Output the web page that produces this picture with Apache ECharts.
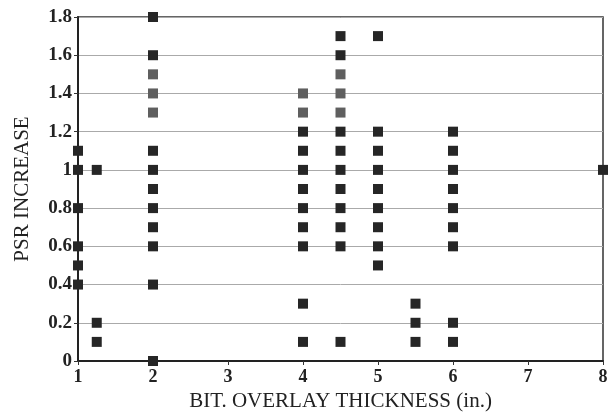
<!DOCTYPE html>
<html>
<head>
<meta charset="utf-8">
<script src="https://cdn.jsdelivr.net/npm/echarts@6/dist/echarts.min.js"></script>
<style>html,body{margin:0;padding:0;background:#fff;}#c{width:609px;height:413px;}</style>
</head>
<body>
<div id="c"></div>
<script>
// x = bit overlay thickness (in.), y = PSR increase
const darkX = [1,1,1,1,1,1, 1.25,1.25,1.25,
  2,2,2,2,2,2,2,2,2,2,
  4,4,4,4,4,4,4,4,4,
  4.5,4.5,4.5,4.5,4.5,4.5,4.5,4.5,4.5,4.5,
  5,5,5,5,5,5,5,5,5,
  5.5,5.5,5.5,
  6,6,6,6,6,6,6,6,6,
  8];
const darkY = [1.1,1.0,0.8,0.6,0.5,0.4, 1.0,0.2,0.1,
  1.8,1.6,1.1,1.0,0.9,0.8,0.7,0.6,0.4,0,
  1.2,1.1,1.0,0.9,0.8,0.7,0.6,0.3,0.1,
  1.7,1.6,1.2,1.1,1.0,0.9,0.8,0.7,0.6,0.1,
  1.7,1.2,1.1,1.0,0.9,0.8,0.7,0.6,0.5,
  0.3,0.2,0.1,
  1.2,1.1,1.0,0.9,0.8,0.7,0.6,0.2,0.1,
  1.0];
const grayX = [2,2,2, 4,4, 4.5,4.5,4.5];
const grayY = [1.5,1.4,1.3, 1.4,1.3, 1.5,1.4,1.3];
const xTicks = [1,2,3,4,5,6,7,8];
const yTicks = [0,0.2,0.4,0.6,0.8,1,1.2,1.4,1.6,1.8];

const zip = (a,b)=>a.map((v,i)=>[v,b[i]]);
const chart = echarts.init(document.getElementById('c'));
const serif = '"Liberation Serif","DejaVu Serif",serif';
chart.setOption({
  animation:false,
  backgroundColor:'#fff',
  grid:{left:78,right:6,top:17,bottom:52,containLabel:false,outerBoundsMode:'none',show:true,borderColor:'#333',borderWidth:1.5,backgroundColor:'transparent'},
  xAxis:{type:'value',min:xTicks[0],max:xTicks[xTicks.length-1],interval:1,
    name:'BIT. OVERLAY THICKNESS (in.)',nameLocation:'middle',nameGap:27,
    nameTextStyle:{fontFamily:serif,fontSize:21,color:'#222'},
    axisLine:{show:true,onZero:false,lineStyle:{color:'#222',width:2}},
    axisTick:{show:true,length:4,lineStyle:{color:'#333'}},
    axisLabel:{fontFamily:serif,fontSize:18,fontWeight:'bold',color:'#222',margin:7},
    splitLine:{show:false}},
  yAxis:{type:'value',min:yTicks[0],max:yTicks[yTicks.length-1],interval:0.2,
    name:'PSR INCREASE',nameLocation:'middle',nameGap:45,
    nameTextStyle:{fontFamily:serif,fontSize:21,color:'#222'},
    axisLine:{show:true,onZero:false,lineStyle:{color:'#222',width:2}},
    axisTick:{show:true,length:4,lineStyle:{color:'#333'}},
    axisLabel:{fontFamily:serif,fontSize:19,fontWeight:'bold',color:'#222',margin:6},
    splitLine:{show:true,lineStyle:{color:'#aaa',width:1}}},
  series:[
    {type:'scatter',symbol:'rect',symbolSize:10,data:zip(darkX,darkY),itemStyle:{color:'#262626',opacity:1}},
    {type:'scatter',symbol:'rect',symbolSize:10,data:zip(grayX,grayY),itemStyle:{color:'#5f5f5f',opacity:1}}
  ]
});
</script>
</body>
</html>
